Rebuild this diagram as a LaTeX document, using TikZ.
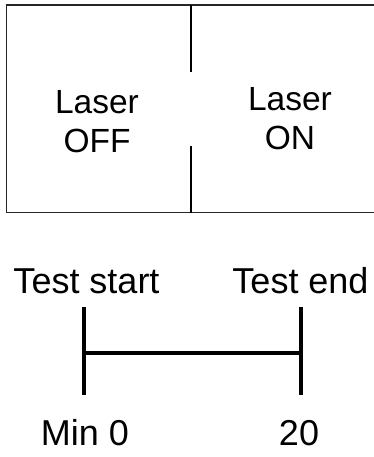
\documentclass[tikz,border=0pt]{standalone}
\usepackage{fontspec}
\setmainfont{Liberation Sans}
\begin{document}
\begin{tikzpicture}[x=1pt,y=-1pt,
  frame/.style={line width=1.6pt,draw=black!85},
  divider/.style={line width=2pt,draw=black},
  tick/.style={line width=4pt,draw=black},
  celltext/.style={align=center,inner sep=0pt,font=\fontsize{33.5}{39}\selectfont},
  tltext/.style={anchor=base,inner sep=0pt,font=\fontsize{36}{40}\selectfont}]
\useasboundingbox (0,0) rectangle (374,457);
\begin{scope}
\clip (0,0) rectangle (374,457);
% frame (open on the right, runs off the picture)
\coordinate (tr) at (400,5);
\coordinate (tl) at (6.5,5);
\coordinate (bl) at (6.5,212.5);
\coordinate (br) at (400,212.5);
\draw[frame] (tr) -- (tl) -- (bl) -- (br);
% divider with gap
\coordinate (d1) at (191,5);
\coordinate (d2) at (191,72);
\coordinate (d3) at (191,146);
\coordinate (d4) at (191,212.5);
\draw[divider] (d1) -- (d2);
\draw[divider] (d3) -- (d4);
\end{scope}
\node[celltext] (off) at (97,121.5) {Laser\\OFF};
\node[celltext] (on) at (290,118.5) {Laser\\ON};
% timeline
\node[tltext] (start) at (86.5,293) {Test start};
\node[tltext] (end) at (300.5,293) {Test end};
\coordinate (a1) at (84,307);
\coordinate (a2) at (84,395);
\coordinate (am) at (84,353);
\coordinate (b1) at (301,307);
\coordinate (b2) at (301,395);
\coordinate (bm) at (301,353);
\draw[tick] (a1) -- (a2);
\draw[tick] (b1) -- (b2);
\draw[tick,line width=3.5pt] (am) -- (bm);
\node[tltext] (m0) at (85,445) {Min 0};
\node[tltext] (m20) at (299,445) {20};
\end{tikzpicture}
\end{document}
